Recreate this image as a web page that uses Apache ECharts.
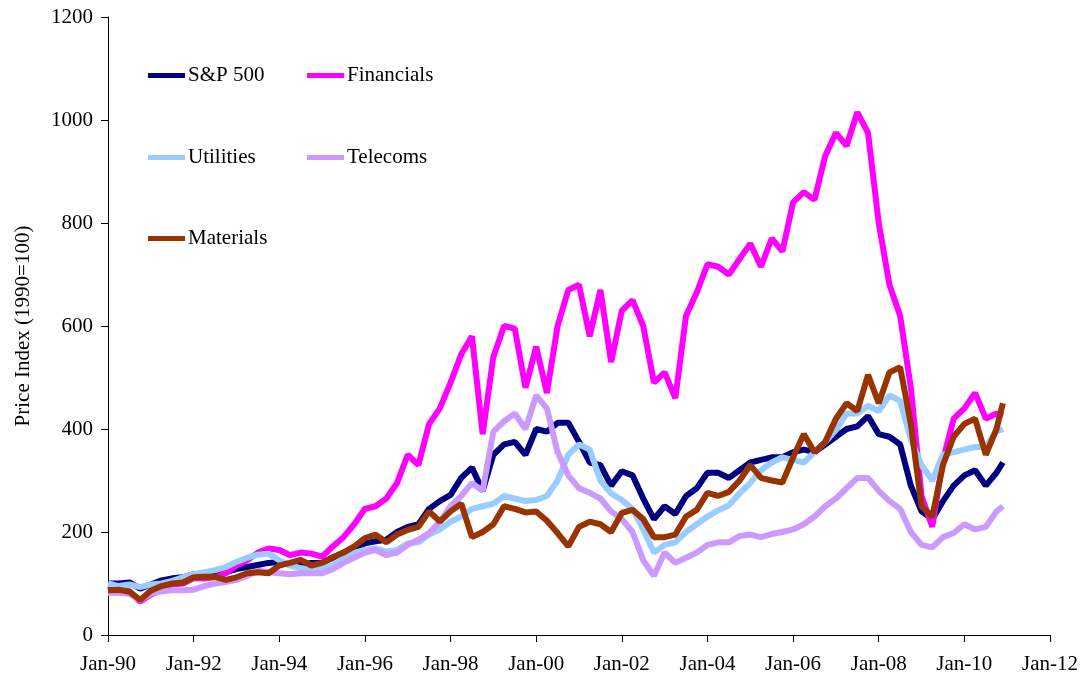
<!DOCTYPE html>
<html>
<head>
<meta charset="utf-8">
<script src="https://cdn.jsdelivr.net/npm/echarts@6/dist/echarts.min.js"></script>
<style>
  html, body { margin: 0; padding: 0; background: #fff; }
  #chart { width: 1086px; height: 681px; }
</style>
</head>
<body>
<div id="chart"></div>
<script>
// quarterly dates as decimal years (Jan-90 .. end of 2010)
const years = [
  1990, 1990.25, 1990.5, 1990.75, 1991, 1991.25, 1991.5, 1991.75,
  1992, 1992.25, 1992.5, 1992.75, 1993, 1993.25, 1993.5, 1993.75,
  1994, 1994.25, 1994.5, 1994.75, 1995, 1995.25, 1995.5, 1995.75,
  1996, 1996.25, 1996.5, 1996.75, 1997, 1997.25, 1997.5, 1997.75,
  1998, 1998.25, 1998.5, 1998.75, 1999, 1999.25, 1999.5, 1999.75,
  2000, 2000.25, 2000.5, 2000.75, 2001, 2001.25, 2001.5, 2001.75,
  2002, 2002.25, 2002.5, 2002.75, 2003, 2003.25, 2003.5, 2003.75,
  2004, 2004.25, 2004.5, 2004.75, 2005, 2005.25, 2005.5, 2005.75,
  2006, 2006.25, 2006.5, 2006.75, 2007, 2007.25, 2007.5, 2007.75,
  2008, 2008.25, 2008.5, 2008.75, 2009, 2009.25, 2009.5, 2009.75,
  2010, 2010.25, 2010.5, 2010.75, 2010.9
]

const sp500 = [
  100, 100, 102, 90, 98, 106, 110, 112,
  118, 118, 120, 122, 128, 132, 136, 140,
  142, 136, 138, 140, 140, 150, 160, 170,
  178, 182, 185, 200, 210, 215, 245, 260,
  272, 305, 325, 280, 350, 370, 375, 350,
  400, 395, 412, 412, 375, 335, 330, 290,
  318, 310, 265, 225, 250, 235, 270, 285,
  315, 315, 305, 320, 335, 340, 345, 345,
  355, 360, 355, 370, 385, 400, 405, 425,
  390, 385, 370, 290, 240, 225, 260, 290,
  310, 320, 290, 315, 335
]

const financials = [
  95, 90, 85, 65, 78, 90, 98, 100,
  110, 110, 112, 120, 135, 145, 160, 168,
  165, 155, 160, 158, 152, 172, 190, 215,
  245, 250, 265, 295, 350, 330, 410, 440,
  490, 545, 580, 390, 540, 600, 595, 480,
  560, 470, 600, 670, 680, 580, 670, 530,
  630, 650, 600, 490, 510, 460, 620, 665,
  720, 715, 700, 730, 760, 715, 770, 745,
  840, 860, 845, 930, 975, 950, 1015, 975,
  800, 680, 620, 480, 270, 210, 340, 420,
  440, 470, 420, 430, 425
]

const utilities = [
  100, 95, 98, 93, 98, 100, 105, 112,
  118, 122, 126, 132, 142, 150, 156, 158,
  145, 135, 130, 126, 130, 135, 150, 160,
  165, 168, 162, 165, 178, 180, 195, 205,
  220, 230, 245, 250, 255, 270, 265, 260,
  262, 270, 300, 350, 370, 360, 300, 275,
  262, 245, 205, 160, 175, 180, 200, 215,
  230, 242, 252, 275, 295, 320, 335, 345,
  340, 335, 355, 375, 398, 430, 430, 445,
  435, 465, 455, 380, 330, 300, 350, 355,
  360, 365, 365, 395, 400
]

const telecoms = [
  82, 82, 80, 68, 80, 85, 87, 87,
  88, 95, 100, 103, 107, 115, 125, 122,
  120, 118, 120, 120, 120, 128, 140, 150,
  160, 165, 155, 160, 175, 185, 198, 220,
  250, 270, 295, 280, 395, 415, 430, 400,
  465, 440, 355, 310, 285, 276, 265, 240,
  225, 200, 145, 115, 160, 140, 150, 160,
  175, 180, 180, 192, 195, 190, 196, 200,
  205, 215, 230, 250, 265, 285, 305, 305,
  280, 260, 245, 200, 175, 170, 190, 198,
  215, 205, 210, 240, 250
]

const materials = [
  87, 88, 84, 68, 86, 95, 100, 102,
  112, 113, 113, 107, 112, 120, 122, 120,
  135, 140, 146, 135, 140, 151, 160, 172,
  188, 195, 180, 195, 204, 210, 240, 220,
  240, 255, 190, 200, 215, 250, 245, 238,
  240, 222, 198, 172, 210, 220, 215, 200,
  237, 243, 225, 190, 190, 195, 230, 243,
  276, 270, 278, 300, 330, 305, 300, 296,
  345, 390, 355, 375, 420, 450, 435, 505,
  450, 510, 520, 410, 250, 230, 330, 385,
  410, 420, 350, 400, 450
]

const names = ['S&P 500', 'Financials', 'Utilities', 'Telecoms', 'Materials']
const colors = ['#000080', '#ff00ff', '#99ccff', '#cc99ff', '#993300']
const values = [sp500, financials, utilities, telecoms, materials]

// legend slots inside the plot, two columns
const legendLeft = [143, 143 + 159, 143, 143 + 159, 143]
const legendTop = [60, 60, 142, 142, 223]

const font = 'Liberation Serif, Times New Roman, serif'

const chart = echarts.init(document.getElementById('chart'))

chart.setOption({
  animation: false,
  color: colors,
  grid: { left: 108, right: 36, top: 17, bottom: 46 },
  legend: names.map((name, k) => ({
    left: legendLeft[k],
    top: legendTop[k],
    icon: 'rect',
    itemWidth: 37,
    itemHeight: 5,
    itemGap: 0,
    selectedMode: false,
    data: [name],
    textStyle: { fontFamily: font, fontSize: 21, color: '#000', padding: [0, 0, 0, -2] }
  })),
  xAxis: {
    type: 'value',
    min: 1990,
    max: 2012,
    interval: 2,
    splitLine: { show: false },
    axisLine: { lineStyle: { color: '#000', width: 1 } },
    axisTick: { show: true, length: 7, lineStyle: { color: '#000' } },
    axisLabel: {
      margin: 19,
      color: '#000',
      fontFamily: font,
      fontSize: 21,
      formatter: v => 'Jan-' + String(v % 100).padStart(2, '0')
    }
  },
  yAxis: {
    type: 'value',
    min: 0,
    max: 1200,
    interval: 200,
    name: 'Price Index (1990=100)',
    nameLocation: 'middle',
    nameGap: 74,
    nameRotate: 90,
    nameTextStyle: { fontFamily: font, fontSize: 21, color: '#000' },
    splitLine: { show: false },
    axisLine: { show: true, lineStyle: { color: '#000', width: 1 } },
    axisTick: { show: true, length: 7, lineStyle: { color: '#000' } },
    axisLabel: {
      margin: 15,
      color: '#000',
      fontFamily: font,
      fontSize: 21,
      formatter: v => String(v)
    }
  },
  series: names.map((name, k) => ({
    name: name,
    type: 'line',
    symbol: 'none',
    lineStyle: { width: 6, color: colors[k] },
    data: years.map((y, i) => [y, values[k][i]])
  }))
})
</script>
</body>
</html>
